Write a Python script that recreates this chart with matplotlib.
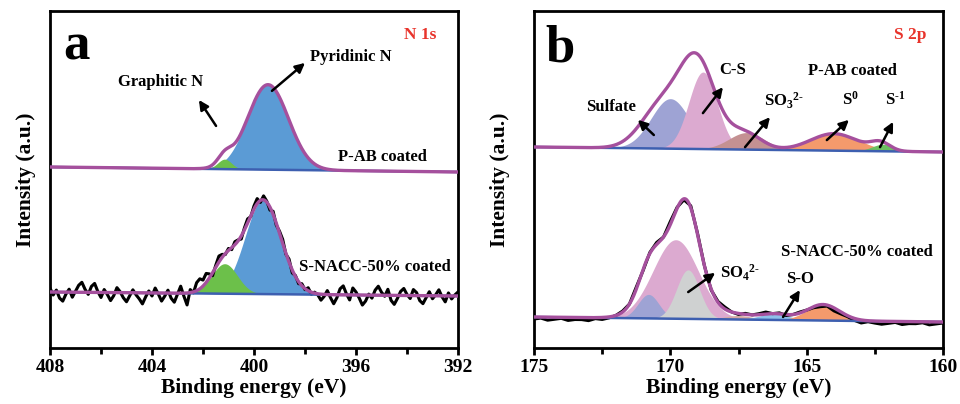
import numpy as np
import matplotlib
matplotlib.use("Agg")
import matplotlib.pyplot as plt
from matplotlib.ticker import MultipleLocator

plt.rcParams['font.family'] = ['Liberation Serif', 'DejaVu Serif']
plt.rcParams['font.weight'] = 'bold'
plt.rcParams['mathtext.fontset'] = 'custom'
plt.rcParams['mathtext.rm'] = 'Liberation Serif:bold'
plt.rcParams['mathtext.it'] = 'Liberation Serif:bold'
plt.rcParams['mathtext.bf'] = 'Liberation Serif:bold'

# ---------------- data (intensity in arbitrary units) ----------------
# Panel a: N 1s, peak fit parameters (center eV, height, sigma eV)
a_xlim = (408, 392)
a_names = ['Pyridinic N', 'Graphitic N']
a_colors = ['#5b9bd5', '#6cc04a']

a_top_baseline = (181, 176)          # P-AB coated, left/right
a_top_centers = [399.45, 401.15]
a_top_heights = [85, 10]
a_top_sigmas = [0.80, 0.27]

a_bot_baseline = (56, 52)            # S-NACC-50% coated
a_bot_centers = [399.65, 401.15]
a_bot_heights = [94, 30]
a_bot_sigmas = [0.70, 0.50]

a_raw_step = 0.125
a_raw_noise = [4, -3, 2, -6, -9, -2, 3, -5, 1, 7, 10, 3, -2, 6, 9, 1, -5, 3, -2, -8,
               -3, 5, 1, -5, -9, -3, 3, -2, -6, -11, -4, 2, -3, 5, -1, -8, -3, 3, -5, -9,
               -1, 7, -3, -12,
               3, -1, 8, 10, 6, 9, 4, -3, 2, 6, 3, -1, 2, -2, 3, 1, -3, 2, 4, -1,
               3, 5, -2, 4, 1, -3, 3, -2, 2, 4, -1, 3, -3, 1, -2, 2, -1, 3, -2, 1, -1,
               -6, -2, 4, -3, -9, -3, 6, 9, 1, -5, 7, 3, -3, -10, -6, 1, -3, 5, 9, 3,
               -1, 6, -5, -9, -3, 4, 7, 1, -3, 6, 3, -5, -8, -2, 4, -3, 1, 6, -1, -6,
               3, -3, 1, 4]

# Panel b: S 2p
b_xlim = (175, 160)
b_top_baseline = (201, 196)          # P-AB coated
b_top_names = ['Sulfate', 'C-S', 'SO3', 'S0', 'S-1']
b_top_centers = [170.0, 168.8, 167.2, 164.0, 162.2]
b_top_heights = [50, 77, 17, 18, 7]
b_top_sigmas = [0.70, 0.52, 0.65, 0.90, 0.40]
b_top_colors = ['#9ea3d4', '#dcaad0', '#c49192', '#f49a6c', '#6cc060']
# drawn envelope of the P-AB coated fit
b_top_env_centers = [170.3, 169.0, 167.3, 164.0, 162.3]
b_top_env_heights = [43, 85, 17, 17, 8]
b_top_env_sigmas = [0.75, 0.65, 0.60, 0.85, 0.35]

b_bot_baseline = (31, 26)            # S-NACC-50% coated
b_bot_names = ['pink', 'Sulfate', 'SO4', 'brown', 'S-O', 'S0']
b_bot_centers = [169.8, 170.8, 169.35, 167.5, 166.2, 164.4]
b_bot_heights = [79, 24, 49, 4, 6, 16]
b_bot_sigmas = [0.83, 0.38, 0.42, 0.50, 0.55, 0.60]
b_bot_colors = ['#dcaad0', '#9ea3d4', '#cfd1d1', '#d4a9a2', '#8ec1ea', '#f49a6c']

b_raw_step = 0.25
b_raw_noise = [-2, -1, -3, -2, -1, -3, -2, -2, -3, -1, -2, -1, 0,
               1, 0, 2, -1, 1, 2, 0, 3, 1, -1, 2, 1, 0, -1, 1, 2, 0, -1, 1, 0, 1, 2, 0, 1, -1, 0, 1, 0,
               -1, -2, -1, -3, -2, -1, -2, -3, -1, -2, -3, -2, -1, -3, -2, -2, -1, -3, -2, -1]

ENV_COLOR = '#a5509d'
BASE_COLOR = '#3d5fb0'


def gauss(x, c, h, s):
    return h * np.exp(-(x - c) ** 2 / (2 * s ** 2))


def peaks(x, centers, heights, sigmas):
    return np.sum([gauss(x, c, h, s) for c, h, s in zip(centers, heights, sigmas)], axis=0)


def baseline(x, xlim, base):
    return base[0] + (base[1] - base[0]) * (x - xlim[0]) / (xlim[1] - xlim[0])


def draw_spectrum(ax, xlim, base, centers, heights, sigmas, colors, env=None, noise=None, step=None):
    x = np.linspace(xlim[0], xlim[1], 1200)
    b = baseline(x, xlim, base)
    for c, h, s, col in zip(centers, heights, sigmas, colors):
        ax.fill_between(x, b, b + gauss(x, c, h, s), color=col, lw=0, zorder=1)
    if env is None:
        env = (centers, heights, sigmas)
    yenv = b + peaks(x, *env)
    if noise is not None:
        xr = xlim[0] + np.sign(xlim[1] - xlim[0]) * step * np.arange(len(noise))
        yr = baseline(xr, xlim, base) + peaks(xr, *env) + np.array(noise)
        ax.plot(xr, yr, color='black', lw=2.2, zorder=2)
    ax.plot(x, b, color=BASE_COLOR, lw=1.8, zorder=3)
    ax.plot(x, yenv, color=ENV_COLOR, lw=2.4, zorder=4)


fig = plt.figure(figsize=(9.6, 4.04), dpi=100)
axa = fig.add_axes([50 / 960, 56 / 404, 408 / 960, 337 / 404])
axb = fig.add_axes([534 / 960, 56 / 404, 409 / 960, 337 / 404])

for ax, xlim, maj, mnr, lpad in [(axa, a_xlim, 4, 2, 10), (axb, b_xlim, 5, 2.5, 17)]:
    ax.set_xlim(*xlim)
    ax.set_ylim(0, 337)
    ax.set_yticks([])
    ax.xaxis.set_major_locator(MultipleLocator(maj))
    ax.xaxis.set_minor_locator(MultipleLocator(mnr))
    ax.tick_params(axis='x', which='major', direction='out', length=5, width=2, labelsize=14, pad=3)
    ax.tick_params(axis='x', which='minor', direction='out', length=4, width=2)
    for sp in ax.spines.values():
        sp.set_linewidth(2)
    ax.set_xlabel('Binding energy (eV)', fontsize=15.5, fontweight='bold', labelpad=1)
    ax.set_ylabel('Intensity (a.u.)', fontsize=15.5, fontweight='bold', labelpad=lpad)

draw_spectrum(axa, a_xlim, a_top_baseline, a_top_centers, a_top_heights, a_top_sigmas, a_colors)
draw_spectrum(axa, a_xlim, a_bot_baseline, a_bot_centers, a_bot_heights, a_bot_sigmas, a_colors,
              noise=a_raw_noise, step=a_raw_step)
draw_spectrum(axb, b_xlim, b_top_baseline, b_top_centers, b_top_heights, b_top_sigmas, b_top_colors,
              env=(b_top_env_centers, b_top_env_heights, b_top_env_sigmas))
draw_spectrum(axb, b_xlim, b_bot_baseline, b_bot_centers, b_bot_heights, b_bot_sigmas, b_bot_colors,
              noise=b_raw_noise, step=b_raw_step)

RED = '#e8342c'
arrow_kw = dict(arrowstyle='-|>', color='black', lw=1.8, mutation_scale=14, shrinkA=0, shrinkB=0)


def arrow(ax, tail, head):
    ax.annotate('', xy=head, xytext=tail, xycoords='axes fraction', textcoords='axes fraction',
                arrowprops=arrow_kw, zorder=6)


def label(ax, x, y, s, size=12, ha='center', va='center', color='black'):
    ax.text(x, y, s, transform=ax.transAxes, fontsize=size, fontweight='bold', ha=ha, va=va,
            color=color, zorder=7)


# panel a labels
label(axa, 0.032, 0.855, 'a', size=38, ha='left', va='baseline')
label(axa, 0.907, 0.929, 'N 1s', size=12.5, color=RED)
label(axa, 0.270, 0.789, 'Graphitic N')
arrow(axa, (0.407, 0.659), (0.365, 0.736))
label(axa, 0.738, 0.864, 'Pyridinic N')
arrow(axa, (0.544, 0.763), (0.625, 0.846))
label(axa, 0.814, 0.567, 'P-AB coated')
label(axa, 0.797, 0.240, 'S-NACC-50% coated')

# panel b labels
label(axb, 0.027, 0.849, 'b', size=38, ha='left', va='baseline')
label(axb, 0.919, 0.929, 'S 2p', size=12.5, color=RED)
label(axb, 0.188, 0.715, 'Sulfate')
arrow(axb, (0.293, 0.632), (0.254, 0.677))
label(axb, 0.487, 0.825, 'C-S')
arrow(axb, (0.413, 0.697), (0.462, 0.774))
label(axb, 0.562, 0.733, r'SO$_3$$^{2\text{-}}$', ha='left')
arrow(axb, (0.516, 0.596), (0.577, 0.685))
label(axb, 0.753, 0.736, r'S$^0$', ha='left')
arrow(axb, (0.716, 0.617), (0.770, 0.677))
label(axb, 0.858, 0.736, r'S$^{\text{-}1}$', ha='left')
arrow(axb, (0.846, 0.596), (0.878, 0.671))
label(axb, 0.778, 0.822, 'P-AB coated')
label(axb, 0.790, 0.285, 'S-NACC-50% coated')
label(axb, 0.455, 0.223, r'SO$_4$$^{2\text{-}}$', ha='left')
arrow(axb, (0.377, 0.166), (0.443, 0.223))
label(axb, 0.650, 0.205, 'S-O')
arrow(axb, (0.609, 0.092), (0.650, 0.172))

fig.savefig('out.png', dpi=100)
